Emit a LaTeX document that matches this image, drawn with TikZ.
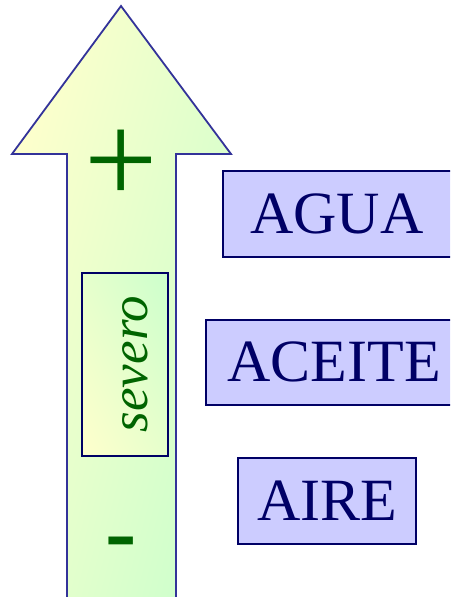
\documentclass[tikz,border=0pt]{standalone}
\usepackage{fontspec}
\usetikzlibrary{shadings}
\setmainfont{Liberation Serif}
\newfontfamily\signfont{Liberation Sans}
\definecolor{arrowline}{RGB}{51,51,153}
\definecolor{boxfill}{RGB}{204,204,255}
\definecolor{boxline}{RGB}{0,0,102}
\definecolor{boxtext}{RGB}{0,0,102}
\definecolor{signgreen}{RGB}{0,100,0}
\definecolor{lightyellow}{RGB}{255,255,204}
\definecolor{lightgreen}{RGB}{204,255,204}
\definecolor{midyg}{RGB}{230,255,204}
\tikzset{
  matbox/.style={draw=boxline, line width=1.8pt, fill=boxfill, inner sep=0pt},
  mattext/.style={text=boxtext, font=\fontsize{60}{60}\selectfont},
  sign/.style={text=signgreen, inner sep=0pt},
}
\begin{document}
\begin{tikzpicture}[x=1pt,y=-1pt]
\useasboundingbox (0,0) rectangle (450,597);
\clip (0,0) rectangle (450,597);
% big arrow
\path[draw=arrowline, line width=1.8pt, line join=miter, left color=lightyellow, right color=lightgreen, shading angle=75]
  (121,6) -- (231,154) -- (176,154) -- (176,610) -- (67,610) -- (67,154) -- (12,154) -- cycle;
% severo box
\path[draw=boxline, line width=1.8pt, lower left=lightyellow, upper right=lightgreen, upper left=midyg, lower right=midyg]
  (82,273) rectangle (168,456);
\node[coordinate] (sevc) at (147,364) {};
\node[text=signgreen, rotate=90, anchor=base, inner sep=0pt, font=\fontsize{53}{53}\itshape\selectfont] (severo) at (sevc) {severo};
% signs
\node[sign, font=\fontsize{130}{130}\selectfont] (plus) at (121,167) {+};
\node[sign, font=\signfont\fontsize{100}{100}\selectfont] (minus) at (121,552) {-};
% material boxes
\path[matbox] (223,171) rectangle (470,257);
\node[mattext] (agua) at (337,214) {AGUA};
\path[matbox] (206,320) rectangle (470,405);
\node[mattext] (aceite) at (334,362) {ACEITE};
\path[matbox] (238,458) rectangle (416,544);
\node[mattext] (aire) at (327,501) {AIRE};
\end{tikzpicture}
\end{document}
